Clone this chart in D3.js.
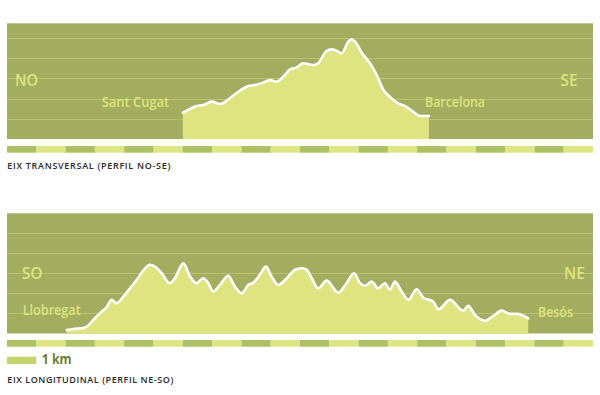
<!DOCTYPE html>
<html><head><meta charset="utf-8">
<script src="https://cdn.jsdelivr.net/npm/d3@7"></script>
<style>body{margin:0;background:#fff}svg{display:block}</style>
</head><body><svg id="c" width="600" height="395"></svg>
<script>
// Distances (km) and elevations (m)
const transKm = [6.00,6.25,6.47,6.70,6.99,7.27,7.38,7.67,8.01,8.24,8.46,8.69,8.98,9.20,9.43,9.66,9.89,10.11,10.28,10.45,10.62,10.91,11.08,11.25,11.42,11.65,11.76,11.88,12.11,12.39,12.62,12.84,13.13,13.35,13.58,13.87,14.10,14.40];
const transElev = [130,149,163,168,185,173,178,209,246,262,267,276,292,284,308,345,355,375,371,366,375,437,444,437,424,482,494,482,427,375,317,246,201,177,163,135,114,114];
const longKm = [2.04,2.32,2.55,2.72,3.00,3.23,3.40,3.57,3.74,3.97,4.20,4.43,4.65,4.88,5.05,5.28,5.56,5.73,6.02,6.25,6.47,6.70,6.87,7.04,7.27,7.55,7.78,8.01,8.24,8.41,8.63,8.84,9.03,9.26,9.55,9.83,10.06,10.23,10.40,10.62,10.91,11.31,11.59,11.85,12.05,12.22,12.45,12.67,12.90,13.07,13.24,13.47,13.70,13.98,14.21,14.55,14.72,15.12,15.57,15.74,15.97,16.31,16.60,16.88,17.17,17.40,17.79];
const longElev = [17,24,26,34,76,109,131,168,151,184,226,268,314,343,334,301,251,276,351,284,251,276,251,209,243,288,234,201,243,254,293,334,284,243,276,318,326,318,276,226,264,204,251,301,251,238,259,226,251,218,259,209,168,221,179,159,121,168,114,138,93,64,88,114,98,98,76];
const gridTicks = [100,200,300,400,500];
const kmSegments = d3.range(20);
const transLabels = ["NO","Sant Cugat","Barcelona","SE"];
const longLabels = ["SO","Llobregat","Besós","NE"];
const titles = ["EIX TRANSVERSAL (PERFIL NO-SE)","EIX LONGITUDINAL (PERFIL NE-SO)"];
const legendLabel = "1 km";

const C = {bg:"#a3ad5f", grid:"#bac372", fill:"#dee47f", label:"#dde47c",
           stripDark:"#adc064", stripLight:"#dee583", legendBar:"#c5d46d", legendText:"#6e7d35", title:"#2a2a2a"};

const svg = d3.select("#c");
const x = d3.scaleLinear().domain([0,20]).range([7,593]);

function panel(cfg){
  const g = svg.append("g");
  const y = d3.scaleLinear().domain([0,cfg.max]).range([cfg.bottom,cfg.top]);
  g.append("rect").attr("x",x(0)).attr("y",cfg.top).attr("width",x(20)-x(0))
   .attr("height",cfg.bottom-cfg.top).attr("fill",C.bg);
  g.selectAll("line.grid").data(gridTicks).join("line").attr("class","grid")
   .attr("x1",x(0)).attr("x2",x(20)).attr("y1",d=>Math.round(y(d))+0.5).attr("y2",d=>Math.round(y(d))+0.5)
   .attr("stroke",C.grid).attr("stroke-width",1);
  const pts = cfg.km.map((k,i)=>[k,cfg.elev[i]]);
  const area = d3.area().x(d=>x(d[0])).y0(y(0)).y1(d=>y(d[1])).curve(d3.curveMonotoneX);
  const line = d3.line().x(d=>x(d[0])).y(d=>y(d[1])).curve(d3.curveMonotoneX);
  g.append("path").datum(pts).attr("d",area).attr("fill",C.fill);
  g.append("path").datum(pts).attr("d",line).attr("fill","none").attr("stroke","#fff")
   .attr("stroke-width",2.6).attr("stroke-linejoin","round").attr("stroke-linecap","round");
  g.selectAll("rect.seg").data(kmSegments).join("rect").attr("class","seg")
   .attr("x",d=>x(d)).attr("width",x(1)-x(0)).attr("y",cfg.strip).attr("height",6.7)
   .attr("fill",d=>d%2===0?C.stripDark:C.stripLight);
  cfg.labels.forEach(l=>{
    g.append("text").attr("x",l.x).attr("y",l.y).text(l.t)
     .attr("font-family","'Open Sans',sans-serif").attr("font-weight",600)
     .attr("font-size",l.fs).attr("fill",C.label)
     .attr("textLength",l.w).attr("lengthAdjust","spacingAndGlyphs");
  });
  g.append("text").attr("x",7.3).attr("y",cfg.titleY).text(cfg.title)
   .attr("font-family","'Open Sans',sans-serif").attr("font-weight",600)
   .attr("font-size",9).attr("fill",C.title)
   .attr("textLength",cfg.titleW).attr("lengthAdjust","spacing");
}

panel({top:23.3,bottom:139,max:573,km:transKm,elev:transElev,strip:146,titleY:169.3,
  title:titles[0],titleW:163,
  labels:[{t:transLabels[0],x:15,y:86,fs:17,w:23},{t:transLabels[1],x:101.7,y:106.7,fs:14,w:67.5},
          {t:transLabels[2],x:425,y:107.3,fs:14,w:60},{t:transLabels[3],x:560.5,y:86,fs:17,w:17}]});
panel({top:213.3,bottom:333.5,max:600,km:longKm,elev:longElev,strip:340,titleY:382.7,
  title:titles[1],titleW:166,
  labels:[{t:longLabels[0],x:21.7,y:279.3,fs:17,w:21},{t:longLabels[1],x:22.7,y:315,fs:14,w:58},
          {t:longLabels[2],x:538,y:316.7,fs:14,w:35},{t:longLabels[3],x:564,y:279,fs:17,w:21}]});

svg.append("rect").attr("x",x(0)).attr("y",356.7).attr("width",x(1)-x(0)).attr("height",7.3).attr("fill",C.legendBar);
svg.append("text").attr("x",41.7).attr("y",363.5).text(legendLabel)
  .attr("font-family","'Open Sans',sans-serif").attr("font-weight",700).attr("font-size",14)
  .attr("fill",C.legendText).attr("textLength",30).attr("lengthAdjust","spacingAndGlyphs");
</script></body></html>
